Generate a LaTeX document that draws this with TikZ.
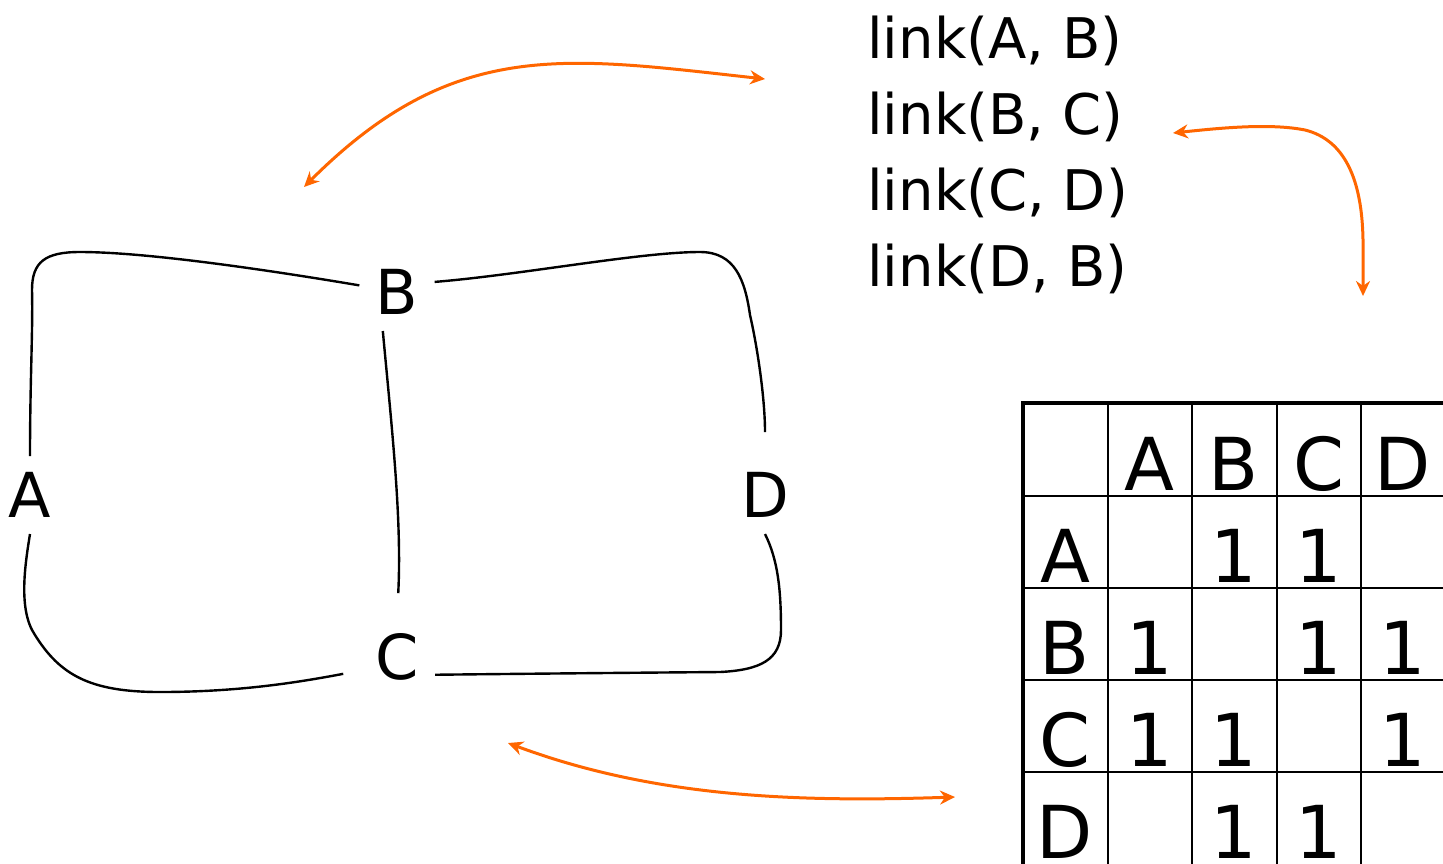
\documentclass[tikz,border=0pt]{standalone}
\usepackage{fontspec}
\setmainfont{DejaVu Sans}
\usetikzlibrary{arrows.meta}
\definecolor{figO}{RGB}{255,102,0}

\begin{document}
\begin{tikzpicture}[x=0.5pt,y=-0.5pt,
  vertex/.style={font=\fontsize{31}{31}\selectfont,inner sep=8pt},
  edge/.style={black,line width=1.2pt},
  hop/.style={figO,line width=1.5pt,arrows={Stealth[length=7.5pt,width=7pt]-Stealth[length=7.5pt,width=7pt]}},
  cell/.style={font=\fontsize{36.5}{36.5}\selectfont,anchor=base,inner sep=0pt}]
\useasboundingbox (0,0) rectangle (1443,863);
% vertices
\node[vertex] (A) at (30,495) {A};
\node[vertex] (B) at (397,292) {B};
\node[vertex] (C) at (397,657) {C};
\node[vertex] (D) at (765,495) {D};
% edges, drawn by hand
\draw[edge] (A.north) .. controls (30,380) and (33,330) .. (32,290) .. controls (32,262) and (45,252) .. (80,252) .. controls (150,252) and (280,272) .. (B.170);
\draw[edge,shorten >=12pt] (B.15) .. controls (520,275) and (640,252) .. (700,252) .. controls (735,252) and (745,280) .. (750,315) .. controls (758,350) and (765,400) .. (D.north);
\draw[edge,shorten >=12pt] (B.250) .. controls (392,430) and (402,520) .. (C.north);
\draw[edge,shorten >=8pt] (A.south) .. controls (25,565) and (18,610) .. (35,635) .. controls (60,675) and (90,692) .. (160,692) .. controls (240,692) and (300,682) .. (C.200);
\draw[edge] (D.south) .. controls (778,560) and (781,590) .. (781,630) .. controls (781,660) and (760,670) .. (720,672) .. controls (600,673) and (500,674) .. (C.335);
% list of links
\foreach \t [count=\i] in {{link(A, B)},{link(B, C)},{link(C, D)},{link(D, B)}}
  \node[font=\fontsize{28}{28}\selectfont,anchor=base west,inner sep=0pt] (link\i) at (867,{58+76.3*(\i-1)}) {\t};
% adjacency matrix
\draw[line width=1.3pt] \foreach \x in {1108,1192,1277,1361} {(\x,403) -- (\x,870)};
\draw[line width=1.3pt] \foreach \y in {496,588,680,772} {(1023,\y) -- (1450,\y)};
\draw[line width=2pt] (1023,870) -- (1023,403) -- (1450,403);
\foreach \n [count=\i] in {A,B,C,D} {
  \node[cell] (h\n) at ({1065+84.5*\i},490) {\n};
  \node[cell] (r\n) at (1065,{490+92*\i}) {\n};
}
\foreach \r/\c in {1/2,1/3,2/1,2/3,2/4,3/1,3/2,3/4,4/2,4/3}
  \node[cell] (m\r\c) at ({1065+84.5*\c},{490+92*\r}) {1};
% arrows between the three views
\coordinate (g1) at (304,187); \coordinate (l1) at (765,79);
\coordinate (l2) at (1173,133); \coordinate (t1) at (1363,296);
\coordinate (g2) at (508,743); \coordinate (t2) at (955,797);
\draw[hop] (g1) .. controls (454,37) and (565,57) .. (l1);
\draw[hop] (l2) .. controls (1220,128) and (1270,123) .. (1305,130) .. controls (1345,140) and (1362,180) .. (1363,240) -- (t1);
\draw[hop] (g2) .. controls (658,799) and (805,802) .. (t2);
\end{tikzpicture}
\end{document}
